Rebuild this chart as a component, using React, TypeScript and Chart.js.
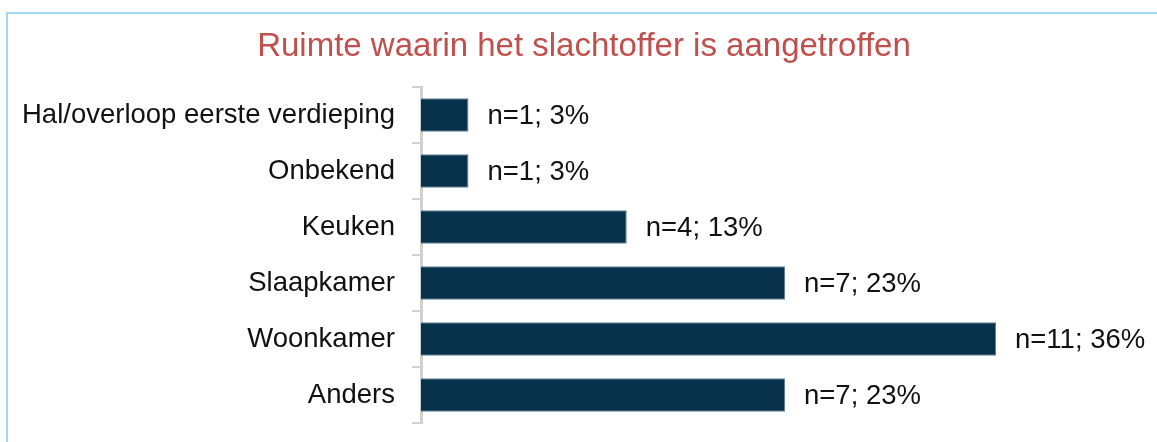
import React, { useEffect, useRef } from "react";
import { Chart, registerables } from "chart.js";

Chart.register(...registerables);

const title = "Ruimte waarin het slachtoffer is aangetroffen";
const categories = [
  "Hal/overloop eerste verdieping",
  "Onbekend",
  "Keuken",
  "Slaapkamer",
  "Woonkamer",
  "Anders",
];
const counts = [1, 1, 4, 7, 11, 7];
const percents = [3, 3, 13, 23, 36, 23];

const FONT = "'Liberation Sans', Arial, sans-serif";

const valueLabels = {
  id: "valueLabels",
  afterDatasetsDraw(chart: any) {
    const ctx = chart.ctx;
    const meta = chart.getDatasetMeta(0);
    ctx.save();
    ctx.font = `27.5px ${FONT}`;
    ctx.fillStyle = "#111111";
    ctx.textBaseline = "middle";
    ctx.textAlign = "left";
    meta.data.forEach((bar: any, i: number) => {
      ctx.fillText(`n=${counts[i]}; ${percents[i]}%`, bar.x + 19, bar.y + 1);
    });
    ctx.restore();
  },
};

const titlePlugin = {
  id: "titlePlugin",
  afterDraw(chart: any) {
    const ctx = chart.ctx;
    ctx.save();
    ctx.font = `33px ${FONT}`;
    ctx.fillStyle = "#c0504d";
    ctx.textBaseline = "middle";
    ctx.textAlign = "center";
    ctx.fillText(title, 584, 47);
    ctx.restore();
  },
};

export default function App() {
  const ref = useRef<HTMLCanvasElement | null>(null);

  useEffect(() => {
    document.body.style.margin = "0";
    const chart = new Chart(ref.current as HTMLCanvasElement, {
      type: "bar",
      data: {
        labels: categories,
        datasets: [
          {
            data: counts,
            backgroundColor: "#07304a",
            borderColor: "#5f8199",
            borderWidth: 1,
            borderSkipped: false,
            barPercentage: 0.6,
            categoryPercentage: 1,
          },
        ],
      },
      options: {
        indexAxis: "y",
        animation: false,
        responsive: false,
        maintainAspectRatio: false,
        layout: { padding: { left: 0, right: 161, top: 87, bottom: 19 } },
        plugins: {
          legend: { display: false },
          tooltip: { enabled: false },
          title: { display: false },
        },
        scales: {
          x: {
            display: false,
            min: 0.1,
            max: 11,
          },
          y: {
            afterFit: (s: any) => {
              s.width = 421;
              s.paddingTop = 0;
              s.paddingBottom = 0;
            },
            border: { display: true, color: "#d0d0d0", width: 3 },
            grid: {
              display: true,
              drawOnChartArea: false,
              drawTicks: true,
              tickLength: 9,
              color: "#d0d0d0",
              lineWidth: 2,
              offset: true,
            },
            ticks: {
              color: "#111111",
              padding: 17,
              font: { family: FONT, size: 27.5 },
            },
          },
        },
      },
      plugins: [valueLabels, titlePlugin],
    });
    return () => chart.destroy();
  }, []);

  return (
    <div style={{ position: "relative", width: 1157, height: 442, overflow: "hidden", background: "#fff" }}>
      <div
        style={{
          position: "absolute",
          left: 6,
          top: 12,
          width: 1300,
          height: 600,
          border: "2px solid #9fd7f4",
        }}
      />
      <canvas ref={ref} width={1157} height={442} style={{ position: "absolute", left: 0, top: 0 }} />
    </div>
  );
}
